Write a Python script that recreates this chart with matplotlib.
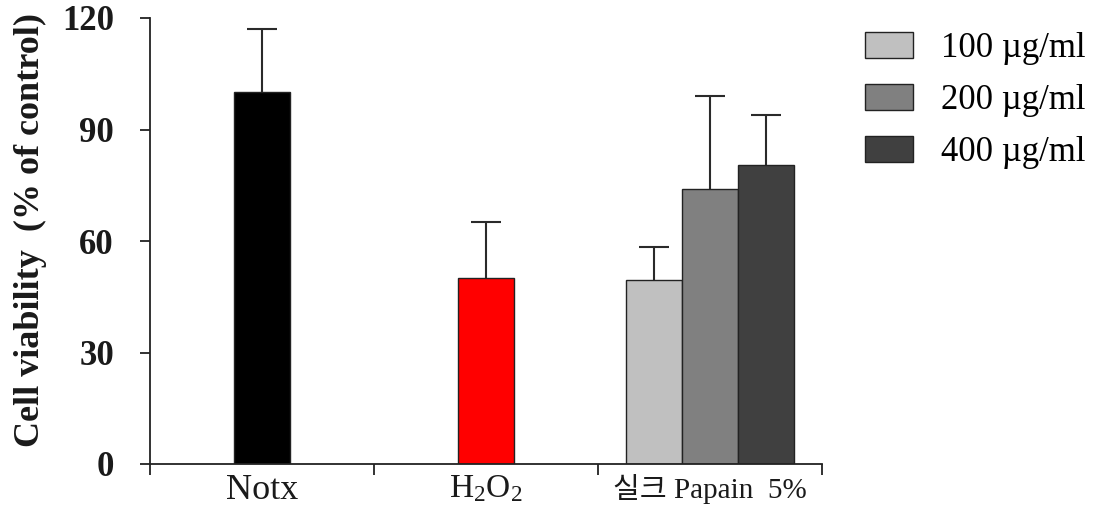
import numpy as np
import matplotlib
matplotlib.use('Agg')
import matplotlib.pyplot as plt
from matplotlib.patches import Patch

plt.rcParams['font.family'] = ['Liberation Serif', 'Noto Sans CJK KR']
plt.rcParams['mathtext.fontset'] = 'custom'
plt.rcParams['mathtext.rm'] = 'Liberation Serif'

# 세포 생존율 데이터 (평균, 표준편차 상단)
groups = ['Notx', r'$\mathregular{H_2O_2}$', '실크 Papain  5%']
group_fs = [26, 24, 21]
ctrl_means = [100, 50]
ctrl_err = [17, 15]
ctrl_colors = ['#000000', '#ff0000']

doses = ['100 µg/ml', '200 µg/ml', '400 µg/ml']
dose_means = [49.5, 74, 80.5]
dose_err = [9, 25, 13.5]
dose_colors = ['#c0c0c0', '#808080', '#404040']

yticks = [0, 30, 60, 90, 120]

width = 0.25
fig = plt.figure(figsize=(11, 5.18), dpi=100)
ax = fig.add_axes([150/1100, 54/518, 672/1100, 446/518])


def draw_bar(x, h, err, color):
    ax.bar(x, h, width, color=color, edgecolor='#222222', linewidth=1, zorder=2)
    # 위쪽 오차막대만
    eb = ax.errorbar(x, h, yerr=[[0], [err]], fmt='none', ecolor='#2a2a2a',
                     elinewidth=1.5, capsize=11, capthick=1.5, zorder=1)
    eb[1][0].set_visible(False)


for i in range(len(ctrl_means)):
    draw_bar(i, ctrl_means[i], ctrl_err[i], ctrl_colors[i])

offsets = np.array([-1, 0, 1]) * width
for j in range(len(doses)):
    draw_bar(2 + offsets[j], dose_means[j], dose_err[j], dose_colors[j])

ax.set_xlim(-0.5, 2.5)
ax.set_ylim(0, 120)
ax.spines['top'].set_visible(False)
ax.spines['right'].set_visible(False)
for s in ['left', 'bottom']:
    ax.spines[s].set_linewidth(1.3)
    ax.spines[s].set_color('#222222')

ax.set_yticks(yticks)
ax.set_yticklabels([str(t) for t in yticks], fontsize=25, fontweight='bold')
ax.tick_params(axis='y', length=7, width=1.3, pad=19, colors='#222222', labelcolor='#1a1a1a')

ax.set_xticks([-0.5, 0.5, 1.5, 2.5])
ax.set_xticklabels([])
ax.tick_params(axis='x', which='major', length=8, width=1.3, colors='#222222')
ax.set_xticks([0, 1, 2], minor=True)
ax.set_xticklabels(groups, minor=True)
for lab, fs in zip(ax.get_xticklabels(minor=True), group_fs):
    lab.set_fontsize(fs)
ax.tick_params(axis='x', which='minor', length=0, pad=7, labelcolor='#1a1a1a')

fig.text(30/1100, 1 - 230/518, 'Cell viability  (% of control)', rotation=90,
         ha='center', va='center', fontsize=26, fontweight='bold', color='#1a1a1a')

handles = [Patch(facecolor=c, edgecolor='#222222', linewidth=1) for c in dose_colors]
fig.legend(handles, doses, loc='upper left', bbox_to_anchor=(865/1100, 1 - 32/518),
           frameon=False, fontsize=25, handlelength=1.38, handleheight=0.75,
           handletextpad=0.8, labelspacing=0.55, borderpad=0, borderaxespad=0)

plt.savefig('out.png', dpi=100)
